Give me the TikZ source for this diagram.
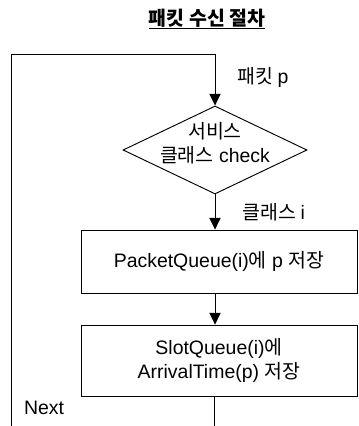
\documentclass[tikz,border=0pt]{standalone}
\usepackage{fontspec}
\setmainfont{Liberation Sans}
\newfontfamily\kr{Noto Sans CJK KR}
\usepackage{tikz}
\usetikzlibrary{positioning, arrows.meta, shapes.geometric}

\begin{document}
\begin{tikzpicture}
    [
        x=0.03cm, y=-0.03cm, node distance=3cm, on grid,
        font=\fontsize{16.6}{20}\selectfont,
        flow_line/.style={line width=0.8pt, color=black},
        flow_arrow/.style={flow_line, -{Triangle[length=3.5mm, width=3.4mm]}},
        edge_label/.style={anchor=west, inner sep=0pt},
        check_node/.style={diamond, draw=black, line width=0.8pt, aspect=2.09, minimum width=5.52cm, minimum height=2.64cm, inner sep=0pt},
        queue_node/.style={rectangle, draw=black, line width=0.8pt, minimum width=8.28cm, align=center},
    ]
        \useasboundingbox (0,0) rectangle (358,426) ;
        \node (title) at (207,19) {\kr\bfseries\underline{패킷 수신 절차}} ;
        \node[check_node, label={[align=center, yshift=2mm]center:{\kr 서비스}\\[1pt]{\kr 클래스} check}] (check) at (215,150) {} ;
        \node[queue_node, minimum height=1.89cm] (queue) [below right=3.345cm and 1.2mm of check] {PacketQueue(i){\kr 에} p {\kr 저장}} ;
        \node[queue_node, minimum height=2.13cm] (store) [below=2.97cm of queue] {SlotQueue(i){\kr 에}\\ArrivalTime(p) {\kr 저장}} ;
        \node (next) at (44,408) {Next} ;
        \coordinate (loop_in) at (11,426) ;
        \coordinate (loop_top) at (215,54) ;
        \coordinate (loop_out) at (214,426) ;
        % loop back to the top and into the check
        \draw[flow_arrow] (loop_in) |- (loop_top) -- node[edge_label, pos=0.45, xshift=6.6mm] {\kr 패킷 {\normalfont p}} (check.north) ;
        \draw[flow_arrow] (check.south) -- node[edge_label, pos=0.5, xshift=8.1mm] {\kr 클래스 {\normalfont i}} (queue.north -| check) ;
        \draw[flow_arrow] (queue.south -| check) -- (store.north -| check) ;
        \draw[flow_line] (store.south -| loop_out) -- (loop_out) ;
    \end{tikzpicture}
\end{document}
